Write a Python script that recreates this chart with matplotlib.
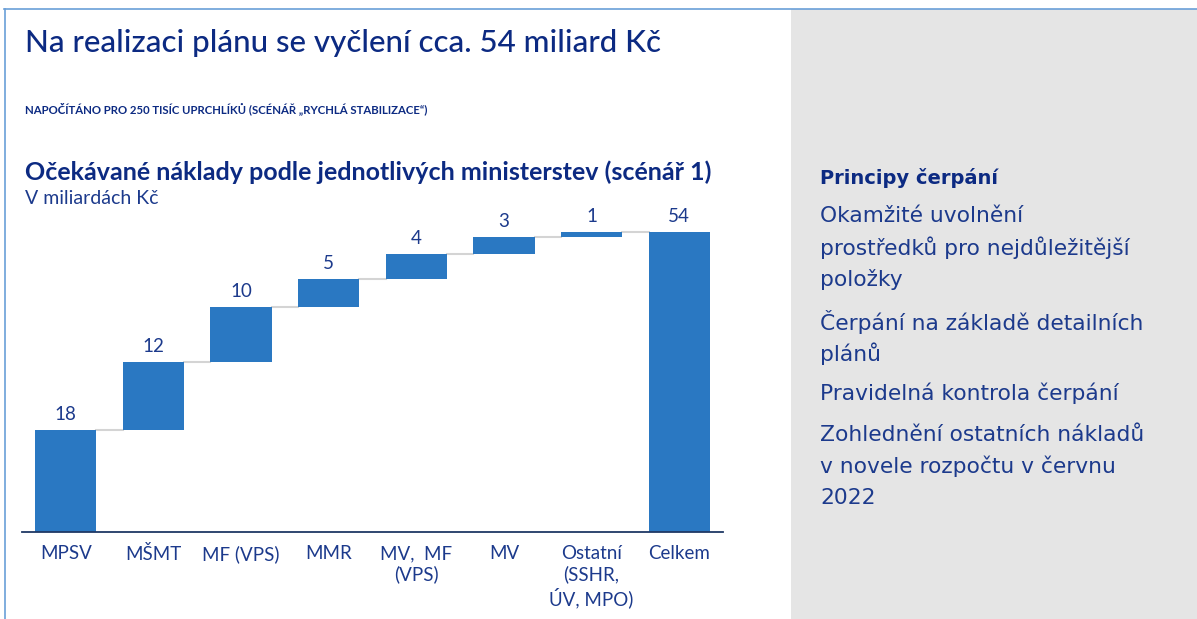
import matplotlib
matplotlib.use('Agg')
import matplotlib.pyplot as plt
from matplotlib.patches import Rectangle
import numpy as np

# data
categories = ['MPSV', 'MŠMT', 'MF (VPS)', 'MMR', 'MV,  MF\n(VPS)', 'MV',
              'Ostatní\n(SSHR,\nÚV, MPO)', 'Celkem']
values = [18.3, 12.3, 9.9, 5.1, 4.4, 3.1, 0.9]

principles = [
    ['Okamžité uvolnění', 'prostředků pro nejdůležitější', 'položky'],
    ['Čerpání na základě detailních', 'plánů'],
    ['Pravidelná kontrola čerpání'],
    ['Zohlednění ostatních nákladů', 'v novele rozpočtu v červnu', '2022'],
]

NARROW = ['Lato', 'DejaVu Sans']
WIDE = ['DejaVu Sans']
BAR = '#2a78c2'
NAVY = '#1c3a8c'
TITLE = '#0c2a82'

W, H = 1197, 619
fig = plt.figure(figsize=(W / 100, H / 100), dpi=100)
fig.patch.set_facecolor('white')

def fx(px):
    return px / W

def fy(py):
    return 1 - py / H

# frame + grey side panel
fig.patches.append(Rectangle((fx(791), 0), fx(W - 791), fy(9), transform=fig.transFigure,
                             facecolor='#e5e5e5', edgecolor='none', zorder=0))
fig.add_artist(plt.Line2D([fx(4), 1], [fy(8.5), fy(8.5)], color='#6a9fd8', lw=1.2))
fig.add_artist(plt.Line2D([fx(5), fx(5)], [0, fy(8.5)], color='#6a9fd8', lw=1.2))

# headings
fig.text(fx(25), fy(43), 'Na realizaci plánu se vyčlení cca. 54 miliard Kč', family=NARROW,
         fontsize=22.5, fontweight='medium', color=TITLE, va='center', ha='left')
fig.text(fx(25), fy(109), 'NAPOČÍTÁNO PRO 250 TISÍC UPRCHLÍKŮ (SCÉNÁŘ „RYCHLÁ STABILIZACE“)',
         family=NARROW, fontsize=8.2, fontweight='bold', color=TITLE, va='center', ha='left')
fig.text(fx(25), fy(172), 'Očekávané náklady podle jednotlivých ministerstev (scénář 1)',
         family=NARROW, fontsize=18, fontweight='bold', color=TITLE, va='center', ha='left')
fig.text(fx(25), fy(198), 'V miliardách Kč', family=NARROW, fontsize=14, color=NAVY,
         va='center', ha='left')

# waterfall
px_per_unit = 5.546
ymax = 60
base_py = 531.5
ax = fig.add_axes([fx(22), fy(base_py), fx(701), ymax * px_per_unit / H])
ax.set_xlim(-0.5, 7.5)
ax.set_ylim(0, ymax)

tops = np.cumsum(values)
bottoms = tops - np.array(values)
total = tops[-1]
x = np.arange(len(categories))
heights = list(values) + [total]
starts = list(bottoms) + [0]

ax.bar(x, heights, bottom=starts, width=0.70, color=BAR, zorder=2)
for i, lvl in enumerate(tops):
    ax.plot([x[i] + 0.35, x[i + 1] - 0.35], [lvl, lvl], color='#d4d4d4', lw=1.5, zorder=1)
for i, (s, h) in enumerate(zip(starts, heights)):
    ax.annotate(f'{h:.0f}', (x[i], s + h), xytext=(0, 5), textcoords='offset points',
                ha='center', va='bottom', family=NARROW, fontsize=13.5, color=NAVY)

for sp in ['top', 'right', 'left']:
    ax.spines[sp].set_visible(False)
ax.spines['bottom'].set_color('#1f3864')
ax.spines['bottom'].set_linewidth(1.3)
ax.set_yticks([])
ax.set_xticks(x)
ax.set_xticklabels(categories, family=NARROW, fontsize=13.5, color=NAVY, linespacing=1.2)
ax.tick_params(axis='x', length=0, pad=10)
ax.patch.set_alpha(0)

# right panel text
fig.text(fx(820), fy(178), 'Principy čerpání', family=WIDE, fontsize=14, fontweight='bold',
         color=TITLE, va='center', ha='left')
item_py = [216, 322, 393, 435]
for py, lines in zip(item_py, principles):
    for j, line in enumerate(lines):
        fig.text(fx(820), fy(py + 31.5 * j), line, family=WIDE, fontsize=15.7, color=NAVY,
                 va='center', ha='left')

fig.savefig('out.png', dpi=100)
